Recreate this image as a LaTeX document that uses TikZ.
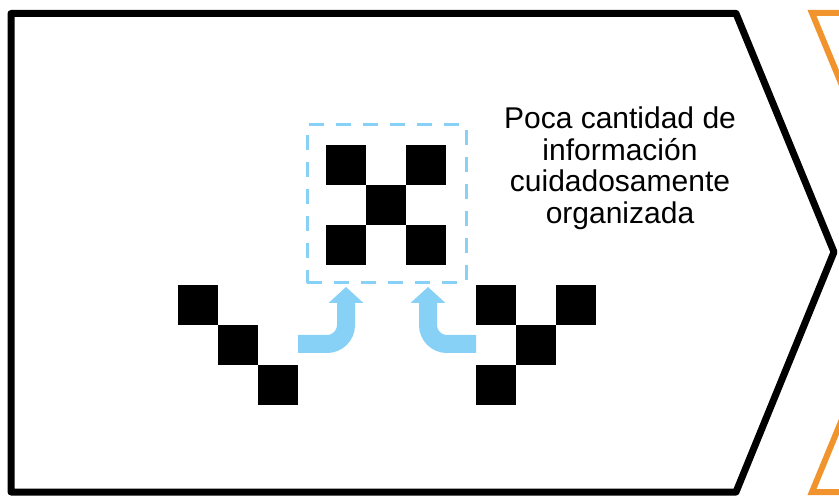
\documentclass[tikz,border=0pt]{standalone}
\usepackage{fontspec}
\setmainfont{Liberation Sans}
\usepackage{tikz}
\usetikzlibrary{arrows.meta}
\usetikzlibrary{calc}
\usetikzlibrary{positioning}

\definecolor{skyblue}{RGB}{135,208,246}
\definecolor{chevorange}{RGB}{241,148,46}

\begin{document}
\begin{tikzpicture}[x=1pt,y=-1pt,
    sq/.style={fill=black,minimum size=40pt,inner sep=0pt,outer sep=0pt},
    bend arrow/.style={draw=skyblue,line width=18pt,rounded corners=19pt,
      -{Triangle[width=34pt,length=16pt]}}]

  \useasboundingbox (0,0) rectangle (839,497);

  \begin{scope}
    \clip (0,0) rectangle (839,497);
    \draw [chevorange,line width=6pt,line join=miter]
      (960,13) -- (812,13) -- (911,252) -- (812,492) -- (960,492);
  \end{scope}

  \draw [line width=7pt,line join=round]
    (11,13.5) -- (736,13.5) -- (834,252) -- (736,492) -- (11,492) -- cycle;

  % the ordered square in the middle
  \node [sq] (Xtl) at (346,165) {};
  \node [sq,right=0pt of Xtl,yshift=-40pt] (Xc) {};
  \node [sq,right=0pt of Xc,yshift=40pt] (Xtr) {};
  \node [sq,below=40pt of Xtl] (Xbl) {};
  \node [sq,below=40pt of Xtr] (Xbr) {};

  \node [draw=skyblue,line width=3pt,dash pattern=on 15pt off 12pt,
    minimum width=159pt,minimum height=158pt,inner sep=0pt] (box) at (386.5,204) {};

  % loose squares
  \node [sq] (L1) at (198,305) {};
  \node [sq,below right=0pt of L1] (L2) {};
  \node [sq,below right=0pt of L2] (L3) {};

  \node [sq] (R1) at (496,305) {};
  \node [sq,below right=0pt of R1] (R2) {};
  \node [sq,above right=0pt of R2] (R3) {};
  \node [sq,below left=0pt of R2] (R4) {};

  \node [align=center,font=\fontsize{30}{31.5}\selectfont] (txt) at (620,168)
    {Poca cantidad de\\información\\cuidadosamente\\organizada};

  \coordinate (Lstart) at (L3.north east |- 0,344);
  \coordinate (Lend) at (346,287);
  \coordinate (Rstart) at (R4.north west |- 0,344);
  \coordinate (Rend) at (428,287);

  \path [bend arrow] (Lstart) -- (Lstart -| Lend) -- (Lend);
  \path [bend arrow] (Rstart) -- (Rstart -| Rend) -- (Rend);

\end{tikzpicture}
\end{document}
